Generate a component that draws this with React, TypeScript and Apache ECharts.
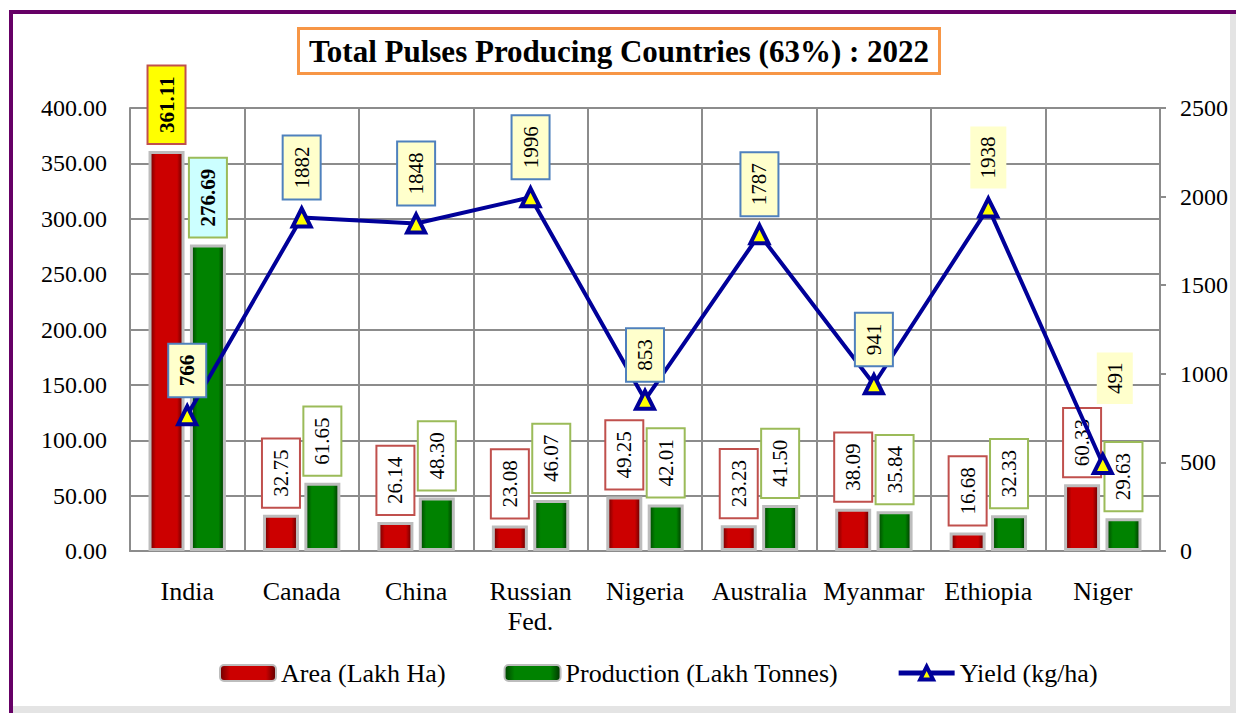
import React, { useEffect, useRef } from "react";
import * as echarts from "echarts";

const categories = ["India", "Canada", "China", "Russian\nFed.", "Nigeria", "Australia", "Myanmar", "Ethiopia", "Niger"];
const areaValues = [361.11, 32.75, 26.14, 23.08, 49.25, 23.23, 38.09, 16.68, 60.33];
const productionValues = [276.69, 61.65, 48.3, 46.07, 42.01, 41.5, 35.84, 32.33, 29.63];
const yieldValues = [766, 1882, 1848, 1996, 853, 1787, 941, 1938, 491];
const leftTicks = { min: 0, max: 400, interval: 50 };
const rightTicks = { min: 0, max: 2500, interval: 500 };
const titleText = "Total Pulses Producing Countries (63%) : 2022";
const seriesNames = ["Area (Lakh Ha)", "Production (Lakh Tonnes)", "Yield (kg/ha)"];

const FONT = "Liberation Serif";

const redGrad = new echarts.graphic.LinearGradient(0, 0, 1, 0, [
  { offset: 0, color: "#6e0000" },
  { offset: 0.18, color: "#cc0000" },
  { offset: 0.82, color: "#cc0000" },
  { offset: 1, color: "#5e0000" },
]);
const greenGrad = new echarts.graphic.LinearGradient(0, 0, 1, 0, [
  { offset: 0, color: "#004400" },
  { offset: 0.18, color: "#008200" },
  { offset: 0.82, color: "#008200" },
  { offset: 1, color: "#003300" },
]);

const baseRotLabel = {
  show: true,
  rotate: 90,
  align: "left",
  verticalAlign: "middle",
  fontFamily: FONT,
  fontSize: 21,
  lineHeight: 24,
  color: "#000",
  padding: [6, 10],
  borderWidth: 2,
};

export default function App() {
  const ref = useRef<HTMLDivElement>(null);
  useEffect(() => {
    if (!ref.current) return;
    const chart = echarts.init(ref.current, null, { renderer: "svg" });

    const areaData = areaValues.map((v, i) =>
      i === 0
        ? { value: v, label: { backgroundColor: "#ffff00", fontWeight: "bold" } }
        : { value: v }
    );
    const prodData = productionValues.map((v, i) =>
      i === 0
        ? { value: v, label: { backgroundColor: "#ccffff", fontWeight: "bold" } }
        : { value: v }
    );
    const yieldData = yieldValues.map((v, i) => {
      if (i === 0) return { value: v, label: { fontWeight: "bold" } };
      if (i === 7) return { value: v, label: { borderWidth: 0 } };
      if (i === 8) return { value: v, label: { borderWidth: 0, offset: [41, 12] } };
      return { value: v };
    });

    chart.setOption({
      animation: false,
      backgroundColor: "#ffffff",
      textStyle: { fontFamily: FONT },
      title: {
        text: titleText,
        left: 298,
        top: 28,
        padding: [6, 11],
        borderColor: "#f79646",
        borderWidth: 3,
        backgroundColor: "#fff",
        textStyle: { fontFamily: FONT, fontSize: 31, fontWeight: "bold", color: "#000", lineHeight: 34 },
      },
      grid: { left: 130, right: 76, top: 108, bottom: 162 },
      legend: {
        left: 214,
        top: 655,
        itemWidth: 56,
        itemHeight: 16,
        itemGap: 58,
        textStyle: { fontFamily: FONT, fontSize: 26, color: "#000" },
        data: [
          { name: seriesNames[0] },
          { name: seriesNames[1] },
          { name: seriesNames[2], lineStyle: { width: 5 }, itemStyle: { borderWidth: 4 } },
        ],
      },
      xAxis: {
        type: "category",
        data: categories,
        axisLine: { show: true, lineStyle: { color: "#8c8c8c", width: 2 } },
        axisTick: { show: false },
        splitLine: { show: true, lineStyle: { color: "#8c8c8c", width: 2 } },
        axisLabel: { fontFamily: FONT, fontSize: 26, color: "#000", margin: 25, lineHeight: 30, interval: 0 },
      },
      yAxis: [
        {
          type: "value",
          min: leftTicks.min,
          max: leftTicks.max,
          interval: leftTicks.interval,
          axisLine: { show: true, lineStyle: { color: "#8c8c8c", width: 2 } },
          axisTick: { show: false },
          splitLine: { show: true, lineStyle: { color: "#8c8c8c", width: 2 } },
          axisLabel: { fontFamily: FONT, fontSize: 24, color: "#000", margin: 23, formatter: (v: number) => v.toFixed(2) },
        },
        {
          type: "value",
          min: rightTicks.min,
          max: rightTicks.max,
          interval: rightTicks.interval,
          axisLine: { show: true, lineStyle: { color: "#8c8c8c", width: 2 } },
          axisTick: { show: true, length: 6, lineStyle: { color: "#8c8c8c", width: 2 } },
          splitLine: { show: false },
          axisLabel: { fontFamily: FONT, fontSize: 24, color: "#000", margin: 20, formatter: (v: number) => String(v) },
        },
      ],
      series: [
        {
          name: seriesNames[0],
          type: "bar",
          data: areaData,
          barWidth: 36,
          barGap: "15%",
          itemStyle: { color: redGrad, borderColor: "#bdbdbd", borderWidth: 3 },
          label: {
            ...baseRotLabel,
            position: "top",
            distance: 8,
            backgroundColor: "#fff",
            borderColor: "#c0504d",
            formatter: (p: any) => Number(p.value).toFixed(2),
          },
          z: 2,
        },
        {
          name: seriesNames[1],
          type: "bar",
          data: prodData,
          barWidth: 36,
          itemStyle: { color: greenGrad, borderColor: "#bdbdbd", borderWidth: 3 },
          label: {
            ...baseRotLabel,
            position: "top",
            distance: 8,
            backgroundColor: "#fff",
            borderColor: "#9bbb59",
            formatter: (p: any) => Number(p.value).toFixed(2),
          },
          z: 2,
        },
        {
          name: seriesNames[2],
          type: "line",
          yAxisIndex: 1,
          data: yieldData,
          symbol: "triangle",
          symbolSize: 18,
          lineStyle: { color: "#000099", width: 4 },
          itemStyle: { color: "#ffff00", borderColor: "#000099", borderWidth: 4 },
          label: {
            ...baseRotLabel,
            position: "top",
            distance: 8,
            backgroundColor: "#ffffcc",
            borderColor: "#4f81bd",
            formatter: (p: any) => String(p.value),
          },
          z: 3,
        },
      ],
      graphic: [
        { type: "rect", shape: { x: 1230, y: 14, width: 6, height: 699 }, style: { fill: "#e4e4e4" }, silent: true },
        { type: "rect", shape: { x: 13, y: 706, width: 1223, height: 7 }, style: { fill: "#e4e4e4" }, silent: true },
        { type: "line", shape: { x1: 11, y1: 10, x2: 11, y2: 713 }, style: { stroke: "#660066", lineWidth: 4 }, silent: true },
        { type: "line", shape: { x1: 9, y1: 12, x2: 1236, y2: 12 }, style: { stroke: "#660066", lineWidth: 4 }, silent: true },
      ],
    });

    return () => chart.dispose();
  }, []);

  return (
    <div
      ref={ref}
      style={{ position: "fixed", left: 0, top: 0, width: 1236, height: 713 }}
    />
  );
}
